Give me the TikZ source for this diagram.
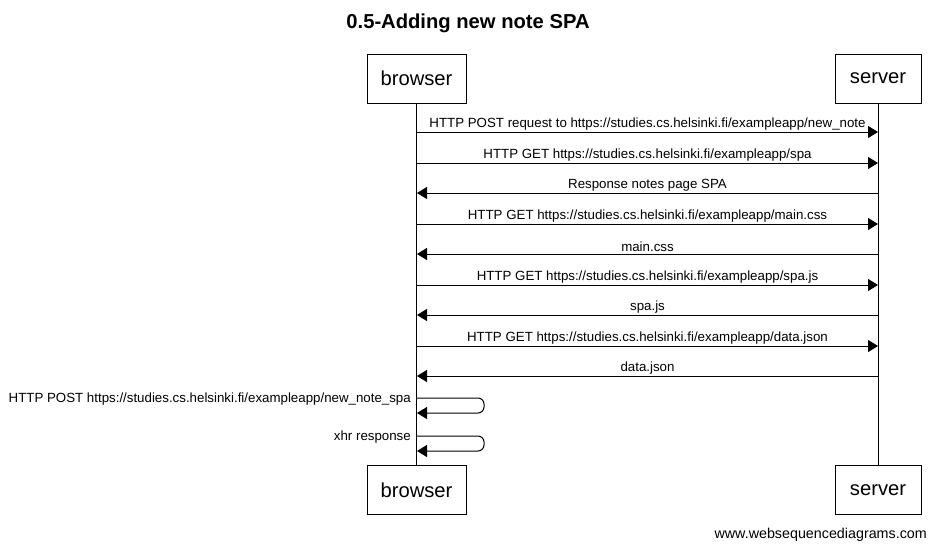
\documentclass[tikz,border=0pt]{standalone}
\usepackage{fontspec}
\setmainfont{Liberation Sans}
\usetikzlibrary{arrows.meta}
\begin{document}
\begin{tikzpicture}[x=1pt,y=-1pt,
  actor/.style={draw,line width=1pt,minimum width=99pt,minimum height=49pt,inner sep=0pt,font=\fontsize{20.2}{22}\selectfont},
  msg/.style={line width=1pt,-{Triangle[length=10pt,width=12pt]}},
  lbl/.style={font=\fontsize{13.3}{15}\selectfont,inner sep=0pt,anchor=base},
  slbl/.style={font=\fontsize{13.3}{15}\selectfont,inner sep=0pt,anchor=base east},
  life/.style={line width=1pt}]
\useasboundingbox (0,0) rectangle (936,549);
\node[font=\bfseries\fontsize{20.2}{22}\selectfont] (title) at (468,23) {0.5-Adding new note SPA};
\node[actor] (bt) at (416.5,78.5) {browser};
\node[actor,minimum width=86pt] (st) at (878,78.5) {server};
\node[actor] (bb) at (416.5,490) {browser};
\node[actor,minimum width=86pt] (sb) at (878,490) {server};
\draw[life] (bt.south) -- (bb.north);
\draw[life] (st.south) -- (sb.north);
% message points
\foreach \n/\y in {1/132,2/163,3/193,4/224,5/254,6/285,7/315,8/346,9/376}{
  \coordinate (b\n) at (417,\y);
  \coordinate (s\n) at (878,\y);
}
\draw[msg] (b1) -- node[lbl,above=1.5pt] {HTTP POST request to https://studies.cs.helsinki.fi/exampleapp/new\_note} (s1);
\draw[msg] (b2) -- node[lbl,above=1.5pt] {HTTP GET https://studies.cs.helsinki.fi/exampleapp/spa} (s2);
\draw[msg] (s3) -- node[lbl,above=1.5pt] {Response notes page SPA} (b3);
\draw[msg] (b4) -- node[lbl,above=1.5pt] {HTTP GET https://studies.cs.helsinki.fi/exampleapp/main.css} (s4);
\draw[msg] (s5) -- node[lbl,above=1.5pt] {main.css} (b5);
\draw[msg] (b6) -- node[lbl,above=1.5pt] {HTTP GET https://studies.cs.helsinki.fi/exampleapp/spa.js} (s6);
\draw[msg] (s7) -- node[lbl,above=1.5pt] {spa.js} (b7);
\draw[msg] (b8) -- node[lbl,above=1.5pt] {HTTP GET https://studies.cs.helsinki.fi/exampleapp/data.json} (s8);
\draw[msg] (s9) -- node[lbl,above=1.5pt] {data.json} (b9);
% self messages
\coordinate (p1a) at (417,398); \coordinate (p1b) at (417,413);
\coordinate (p2a) at (417,436); \coordinate (p2b) at (417,451);
\draw[msg,rounded corners=6pt] (p1a) -- (484,398) -- (484,413) -- (p1b);
\node[slbl] (l10) at (411,402) {HTTP POST https://studies.cs.helsinki.fi/exampleapp/new\_note\_spa};
\draw[msg,rounded corners=6pt] (p2a) -- (484,436) -- (484,451) -- (p2b);
\node[slbl] (l11) at (411,440) {xhr response};
\node[font=\fontsize{14.3}{16}\selectfont,inner sep=0pt,anchor=base east] (wm) at (927,538) {www.websequencediagrams.com};
\end{tikzpicture}
\end{document}
